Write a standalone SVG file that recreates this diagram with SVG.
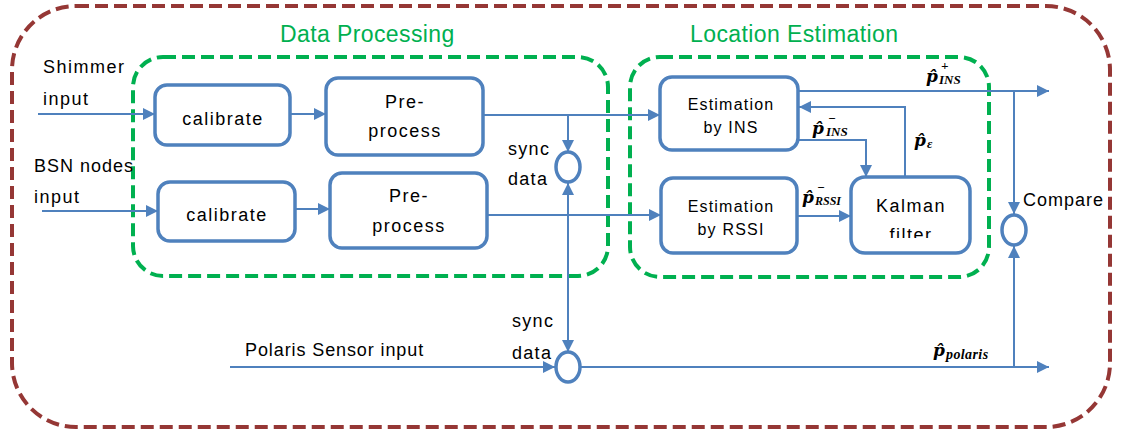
<svg xmlns="http://www.w3.org/2000/svg" width="1124" height="435" viewBox="0 0 1124 435">
  <style>
    .frame { fill: none; stroke: #953735; stroke-width: 4; stroke-dasharray: 13 6; }
    .group { fill: none; stroke: #00B050; stroke-width: 4; stroke-dasharray: 13 6; }
    .box { fill: #fff; stroke: #4F81BD; stroke-width: 3.5; }
    .join { fill: #fff; stroke: #4F81BD; stroke-width: 3.5; }
    .ln { fill: none; stroke: #4F81BD; stroke-width: 2; }
    .t { font-family: "Liberation Sans", Arial, sans-serif; font-size: 18px; fill: #000; letter-spacing: 1.5px; }
    .s { font-size: 16px; letter-spacing: 1.2px; }
    .title { font-family: "Liberation Sans", Arial, sans-serif; font-size: 23px; fill: #00B050; letter-spacing: 0.4px; }
    .m { font-family: "Liberation Serif", "DejaVu Serif", serif; font-weight: bold; font-style: italic; fill: #000; }
    .mp { font-family: "DejaVu Serif", serif; font-size: 17px; }
    .ms { font-size: 13px; }
  </style>
  <defs>
    <marker id="arr" markerUnits="userSpaceOnUse" markerWidth="12" markerHeight="12" refX="12" refY="6" orient="auto-start-reverse">
      <path d="M0,0 L12,6 L0,12 z" fill="#4F81BD"/>
    </marker>
    <clipPath id="kclip">
      <rect x="850" y="170" width="125" height="68"/>
    </clipPath>
  </defs>

  <!-- outer system boundary -->
  <rect class="frame" x="12" y="6" width="1098" height="421" rx="64" ry="64"/>

  <!-- processing stages -->
  <g id="data-processing">
    <rect class="group" x="133" y="57" width="475" height="219" rx="30" ry="30"/>
    <text class="title" x="280" y="42">Data Processing</text>
  </g>
  <g id="location-estimation">
    <rect class="group" x="630" y="57" width="359" height="220" rx="30" ry="30"/>
    <text class="title" x="690" y="42">Location Estimation</text>
  </g>

  <!-- input labels -->
  <g id="inputs">
    <text class="t" x="43" y="73">Shimmer</text>
    <text class="t" x="43" y="105">input</text>
    <text class="t" x="34" y="172" style="letter-spacing:1px">BSN nodes</text>
    <text class="t" x="34" y="203">input</text>
    <text class="t" x="245" y="356" style="letter-spacing:0.9px">Polaris Sensor input</text>
  </g>

  <!-- connectors -->
  <g id="connectors">
    <path class="ln" d="M38,114 H155" marker-end="url(#arr)"/>
    <path class="ln" d="M42,211 H158" marker-end="url(#arr)"/>
    <path class="ln" d="M290,114 H326" marker-end="url(#arr)"/>
    <path class="ln" d="M296,209 H330" marker-end="url(#arr)"/>
    <path class="ln" d="M483,115 H660" marker-end="url(#arr)"/>
    <path class="ln" d="M568,115 V152" marker-end="url(#arr)"/>
    <path class="ln" d="M487,215 H661" marker-end="url(#arr)"/>
    <path class="ln" d="M568,183 V352" marker-start="url(#arr)" marker-end="url(#arr)"/>
    <path class="ln" d="M230,367 H555" marker-end="url(#arr)"/>
    <path class="ln" d="M581,367 H1049" marker-end="url(#arr)"/>
    <path class="ln" d="M1014,367 V246" marker-end="url(#arr)"/>
    <path class="ln" d="M798,91 H1049" marker-end="url(#arr)"/>
    <path class="ln" d="M1014,91 V214" marker-end="url(#arr)"/>
    <path class="ln" d="M905,177 V107 H799" marker-end="url(#arr)"/>
    <path class="ln" d="M798,140 H866 V177" marker-end="url(#arr)"/>
    <path class="ln" d="M797,216 H851" marker-end="url(#arr)"/>
  </g>

  <!-- blocks -->
  <g id="calibrate-shimmer">
    <rect class="box" x="155" y="85" width="135" height="60" rx="12" ry="12"/>
    <text class="t" x="223" y="125" text-anchor="middle">calibrate</text>
  </g>
  <g id="preprocess-shimmer">
    <rect class="box" x="326" y="78" width="157" height="77" rx="12" ry="12"/>
    <text class="t" x="405" y="108" text-anchor="middle">Pre-</text>
    <text class="t" x="405" y="137" text-anchor="middle">process</text>
  </g>
  <g id="calibrate-bsn">
    <rect class="box" x="158" y="182" width="137" height="59" rx="12" ry="12"/>
    <text class="t" x="227" y="221" text-anchor="middle">calibrate</text>
  </g>
  <g id="preprocess-bsn">
    <rect class="box" x="330" y="173" width="157" height="75" rx="12" ry="12"/>
    <text class="t" x="409" y="202" text-anchor="middle">Pre-</text>
    <text class="t" x="409" y="232" text-anchor="middle">process</text>
  </g>
  <g id="estimation-ins">
    <rect class="box" x="660" y="77" width="138" height="73" rx="12" ry="12"/>
    <text class="t s" x="731" y="110" text-anchor="middle">Estimation</text>
    <text class="t s" x="731" y="133" text-anchor="middle">by INS</text>
  </g>
  <g id="estimation-rssi">
    <rect class="box" x="661" y="178" width="136" height="75" rx="12" ry="12"/>
    <text class="t s" x="731" y="212" text-anchor="middle">Estimation</text>
    <text class="t s" x="731" y="235" text-anchor="middle">by RSSI</text>
  </g>
  <g id="kalman-filter">
    <rect class="box" x="851" y="177" width="119" height="76" rx="14" ry="14"/>
    <text class="t" x="911" y="212" text-anchor="middle">Kalman</text>
    <text class="t" x="911" y="241" text-anchor="middle" clip-path="url(#kclip)">filter</text>
  </g>

  <!-- junctions -->
  <g id="sync-sensors">
    <ellipse class="join" cx="568" cy="167" rx="12" ry="15"/>
    <text class="t" x="508" y="155" style="letter-spacing:1.3px">sync</text>
    <text class="t" x="508" y="185" style="letter-spacing:1.3px">data</text>
  </g>
  <g id="sync-polaris">
    <ellipse class="join" cx="568" cy="367" rx="12" ry="15"/>
    <text class="t" x="512" y="327" style="letter-spacing:1.3px">sync</text>
    <text class="t" x="512" y="359" style="letter-spacing:1.3px">data</text>
  </g>
  <g id="compare">
    <ellipse class="join" cx="1014" cy="230" rx="12" ry="15"/>
    <text class="t" x="1023" y="206" style="letter-spacing:1px">Compare</text>
  </g>

  <!-- signal labels -->
  <g id="signal-labels">
    <text class="m mp" x="926" y="82">p̂</text>
    <text class="m ms" x="939" y="84">INS</text>
    <text class="m ms" x="941" y="70">+</text>

    <text class="m mp" x="812" y="134">p̂</text>
    <text class="m ms" x="826" y="136">INS</text>
    <text class="m ms" x="828" y="123">−</text>

    <text class="m mp" x="914" y="146">p̂</text>
    <text class="m ms" x="927" y="148">ε</text>

    <text class="m mp" x="802" y="203">p̂</text>
    <text class="m ms" x="815" y="205" style="font-size:12px">RSSI</text>
    <text class="m ms" x="817" y="192">−</text>

    <text class="m mp" x="933" y="356">p̂</text>
    <text class="m ms" x="946" y="359" style="font-size:14px;letter-spacing:0.4px">polaris</text>
  </g>
</svg>
